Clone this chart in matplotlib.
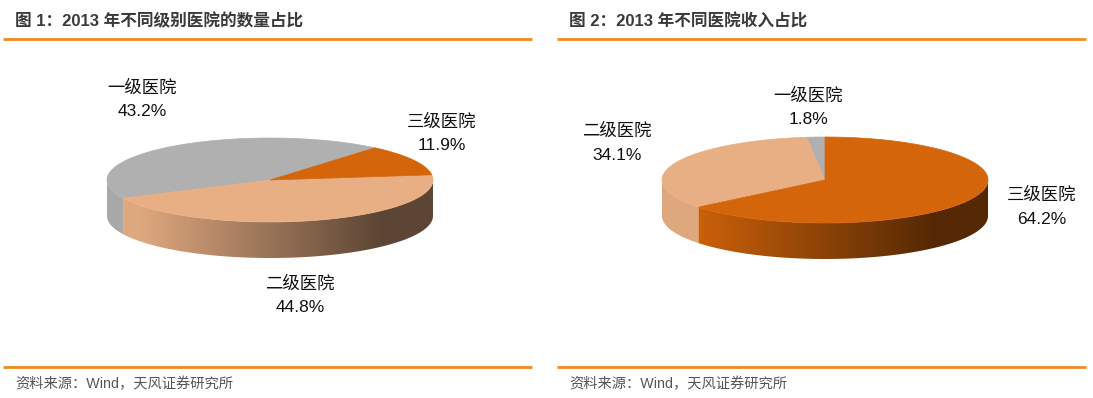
import numpy as np
import matplotlib
matplotlib.use("Agg")
import matplotlib.pyplot as plt
from matplotlib.patches import Polygon
from matplotlib.colors import to_rgb

plt.rcParams['font.family'] = ['Liberation Sans', 'Noto Sans CJK SC', 'DejaVu Sans']

# data
categories = ["一级医院", "二级医院", "三级医院"]
count_share = [43.2, 44.8, 11.9]     # 图1 数量占比
income_share = [1.8, 34.1, 64.2]     # 图2 收入占比
colors = ["#B0B0B0", "#E8AF84", "#D4650A"]

titles = ["图 1：2013 年不同级别医院的数量占比", "图 2：2013 年不同医院收入占比"]
source = "资料来源：Wind，天风证券研究所"

W, H = 1093, 398
fig = plt.figure(figsize=(W / 100, H / 100), dpi=100)
ax = fig.add_axes([0, 0, 1, 1])
ax.set_xlim(0, W)
ax.set_ylim(H, 0)
ax.axis("off")


def ell(cx, cy, rx, ry, th):
    t = np.radians(th)
    return cx + rx * np.cos(t), cy - ry * np.sin(t)


def pie3d(values, start, cx, cy, rx, ry, depth):
    total = sum(values)
    angles = [start]
    for v in values:
        angles.append(angles[-1] + v / total * 360)

    # side walls (front half only), gradient left -> right
    xs = np.linspace(cx - rx, cx + rx, 400)
    t = np.clip((xs - (cx - 130)) / 240, 0, 1)
    fac = 0.96 - 0.56 * t
    for i, c in enumerate(colors):
        a0, a1 = angles[i], angles[i + 1]
        rgb = np.array(to_rgb(c))
        for lo, hi in [(180, 360), (540, 720), (-180, 0)]:
            s, e = max(a0, lo), min(a1, hi)
            if e <= s:
                continue
            th = np.linspace(s, e, 120)
            x, y = ell(cx, cy, rx, ry, th)
            pts = np.vstack([np.column_stack([x, y]),
                             np.column_stack([x[::-1], y[::-1] + depth])])
            poly = Polygon(pts, closed=True, facecolor="none", edgecolor="none")
            ax.add_patch(poly)
            img = (rgb[None, None, :] * fac[None, :, None]).repeat(2, axis=0)
            im = ax.imshow(img, extent=(cx - rx, cx + rx, cy + ry + depth, cy - ry),
                           aspect="auto", interpolation="bilinear", zorder=2)
            im.set_clip_path(poly)

    # top faces
    for i, c in enumerate(colors):
        th = np.linspace(angles[i], angles[i + 1], 200)
        x, y = ell(cx, cy, rx, ry, th)
        pts = np.vstack([[cx, cy], np.column_stack([x, y])])
        ax.add_patch(Polygon(pts, closed=True, facecolor=c, edgecolor=c,
                             linewidth=0.5, zorder=3))


pie3d(count_share, 50, 270, 180, 163, 42, 36)
pie3d(income_share, 90, 825, 180, 163, 43, 36)

# labels
lab_kw = dict(ha="center", va="center", fontsize=12.5, color="#111111", zorder=5)
left_pos = [(142, 88), (300, 284), (442, 122)]
right_pos = [(808, 96), (617, 131), (1042, 195)]
for name, v, (x, y) in zip(categories, count_share, left_pos):
    ax.text(x, y, name, **lab_kw)
    ax.text(x, y + 24, f"{v:.1f}%", **lab_kw)
for name, v, (x, y) in zip(categories, income_share, right_pos):
    ax.text(x, y, name, **lab_kw)
    ax.text(x, y + 24, f"{v:.1f}%", **lab_kw)

# titles, rules, sources
line_c = "#F28A21"
for x0, x1, title in [(3, 532, titles[0]), (557, 1086, titles[1])]:
    ax.text(x0 + 12, 21, title, ha="left", va="center", fontsize=12,
            fontweight="bold", color="#3A3A3A")
    ax.plot([x0, x1], [39, 39], color=line_c, lw=2, solid_capstyle="butt")
    ax.plot([x0, x1], [367, 367], color=line_c, lw=2, solid_capstyle="butt")
    ax.text(x0 + 12, 384, source, ha="left", va="center", fontsize=10.3,
            color="#555555")

fig.savefig("out.png", dpi=100)
